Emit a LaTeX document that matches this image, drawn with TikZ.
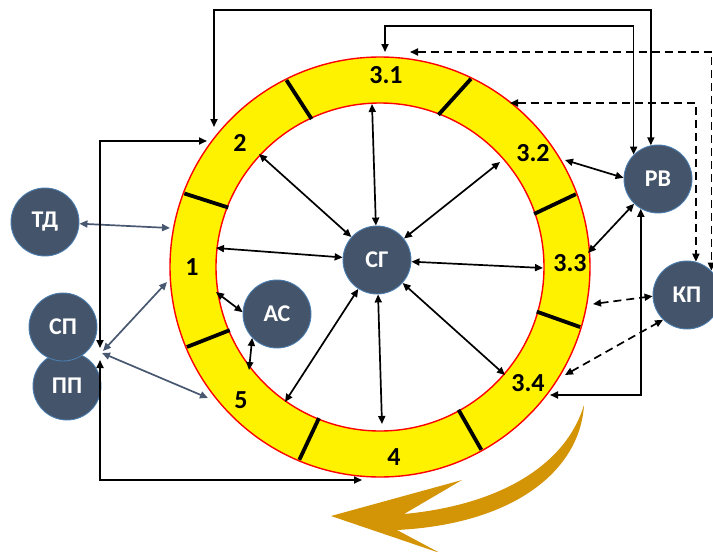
\documentclass[tikz,border=0pt]{standalone}
\usepackage{fontspec}
\setmainfont{Carlito}
\usetikzlibrary{arrows.meta,calc}
\definecolor{nodefill}{RGB}{68,84,106}
\definecolor{nodeedge}{RGB}{75,125,175}
\definecolor{goldarrow}{RGB}{211,148,6}
\definecolor{slateline}{RGB}{72,88,112}
\begin{document}
\begin{tikzpicture}[x=1pt,y=-1pt,
  actor/.style={circle,fill=nodefill,draw=nodeedge,line width=0.9pt,minimum size=68pt,inner sep=0pt,text=white,font=\bfseries\fontsize{24}{24}\selectfont},
  seglabel/.style={inner sep=0pt,font=\bfseries\fontsize{26}{26}\selectfont},
  conn/.style={line width=1.7pt,{Triangle[length=8pt,width=7pt]}-{Triangle[length=8pt,width=7pt]}},
  dconn/.style={conn,dash pattern=on 8pt off 5pt},
  sconn/.style={conn,draw=slateline,fill=slateline},
  divider/.style={line width=3.8pt,line cap=butt},
  ringline/.style={draw=red,line width=1.4pt}
]
\useasboundingbox (0,0) rectangle (713,552);
\coordinate (O) at (380,267);
% ring
\fill[yellow,even odd rule] (O) circle (210) (O) circle (164);
\draw[ringline] (O) circle (210);
\draw[ringline] (O) circle (164);
% dividers (visual angle a -> polar -a)
\foreach \ai/\ao in {-114.8/-116.6, -69/-64.2, -19/-20.4, 15.9/16.7, 61.2/61, 112/112.7, 157.2/157.5, -158.6/-159.4}
  \draw[divider] ($(O)+(\ai:163)$) -- ($(O)+(\ao:209)$);
% segment labels
\node[seglabel] (L31) at (386,75) {3.1};
\node[seglabel] (L2) at (240,143) {2};
\node[seglabel] (L32) at (533,153) {3.2};
\node[seglabel] (L33) at (570,263) {3.3};
\node[seglabel] (L34) at (528,383) {3.4};
\node[seglabel] (L4) at (394,457) {4};
\node[seglabel] (L5) at (241,400) {5};
\node[seglabel] (L1) at (192,267) {1};
% gold arrow
\fill[goldarrow] (331,516) -- (462,480) -- (404,514) .. controls (500,505) and (566,465) .. (584,405) .. controls (580,470) and (515,524) .. (397,530) -- (440,553) -- cycle;
% nodes
\node[actor] (SG) at (377,260) {СГ};
\node[actor] (AC) at (277,314) {АС};
\node[actor] (TD) at (45,222) {ТД};
\node[actor] (PP) at (67,386) {ПП};
\node[actor] (SP) at (63,327) {СП};
\node[actor] (RV) at (658,179) {РВ};
\node[actor] (KP) at (687,295) {КП};
% ring coordinates
\coordinate (c31i) at (372,104);
\coordinate (c2i) at (259,154);
\coordinate (c32i) at (500,162);
\coordinate (c1i) at (216,248);
\coordinate (c33i) at (543,268);
\coordinate (c34i) at (505,375);
\coordinate (c4i) at (382,424);
\coordinate (c5i) at (285,402);
\coordinate (c1a) at (216,292);
\coordinate (c5a) at (249,370);
\coordinate (c2o) at (214,127);
\coordinate (c31o) at (385,52);
\coordinate (c31d) at (410,52);
\coordinate (c32d) at (510,103);
\coordinate (c33d) at (593,304);
\coordinate (c34d) at (565,375);
\coordinate (c32r) at (565,160);
\coordinate (c33r) at (588,253);
\coordinate (c34r) at (550,395);
\coordinate (c1t) at (170,228);
\coordinate (c1s) at (167,282);
\coordinate (c5s) at (208,398);
\coordinate (spC) at (103,351);
\coordinate (spD) at (102,353);
\coordinate (c2l) at (207,141);
\coordinate (spA) at (100,348);
\coordinate (spB) at (100,360);
\coordinate (c4o) at (362,480);
% connectors to SG
\foreach \c in {c31i,c2i,c32i,c1i,c33i,c34i,c4i,c5i}
  \draw[conn] (\c) -- (SG);
\draw[conn] (c1a) -- (AC.177);
\draw[conn] (c5a) -- (AC.224);
% top / right
\draw[conn] (c2o) -- ++(0,-117) -| (RV.102);
\draw[conn] (c31o) -- ++(0,-26) -| (RV.135);
\draw[dconn] (c31d) -| (KP.45);
\draw[dconn] (c32d) -| (KP.75);
\draw[dconn] (c33d) -- (KP.182);
\draw[dconn] (c34d) -- (KP.226);
\draw[conn] (c32r) -- (RV.178);
\draw[conn] (c33r) -- (RV.226);
\draw[conn] (c34r) -| (RV.240);
% left
\draw[sconn] (c1t) -- (TD);
\draw[sconn] (c1s) -- (spC);
\draw[sconn] (spD) -- (c5s);
\draw[conn] (c2l) -| (spA);
\draw[conn] (spB) |- (c4o);
\end{tikzpicture}
\end{document}
